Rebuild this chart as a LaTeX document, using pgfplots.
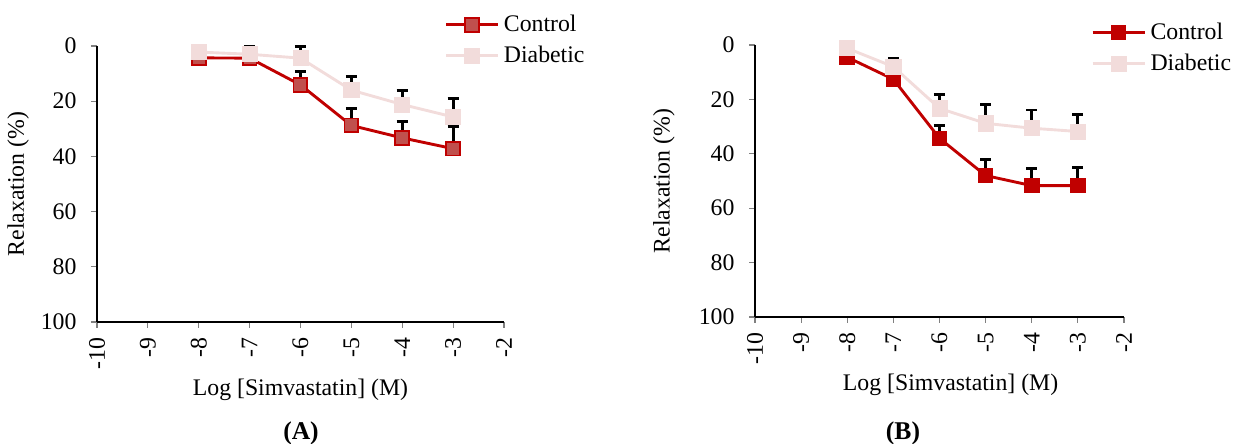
\documentclass[border=0pt]{standalone}
\usepackage{fontspec}
\setmainfont{Liberation Serif}
\usepackage{pgfplots}
\usepackage{pgfplotstable}
\pgfplotsset{compat=1.18}

\definecolor{ctrlred}{RGB}{192,0,0}
\definecolor{ctrlfill}{RGB}{192,80,77}
\definecolor{diab}{RGB}{242,220,219}

% panel A
\pgfplotstableread{
x  y    e
-8 4.3  0
-7 4.4  0
-6 14.1 4.9
-5 28.8 6.0
-4 33.3 6.0
-3 37.2 8.0
}\ctrlA
\pgfplotstableread{
x  y    e
-8 2.2  0
-7 3.0  2.8
-6 4.4  4.2
-5 16.0 4.8
-4 21.2 5.1
-3 25.7 6.8
}\diabA
% panel B
\pgfplotstableread{
x  y    e
-8 4.5  0
-7 12.6 0
-6 34.3 4.6
-5 48.0 5.8
-4 51.7 6.4
-3 51.7 6.8
}\ctrlB
\pgfplotstableread{
x  y    e
-8 1.2  0
-7 8.0  3.1
-6 23.3 5.2
-5 28.8 6.8
-4 30.6 6.7
-3 31.8 6.1
}\diabB

\newcommand{\lbl}{\fontsize{10.7}{12.8}\selectfont}

\pgfplotsset{
  panel/.style={
    scale only axis,
    xmin=-10, xmax=-2, ymin=0, ymax=100,
    y dir=reverse,
    axis x line*=bottom, axis y line*=left,
    axis line style={black, line width=0.6pt, -},
    xtick={-10,...,-2},
    xticklabels={-10,-9,-8,-7,-6,-5,-4,-3,-2},
    ytick={0,20,...,100},
    tick align=outside,
    major tick length=2.7pt,
    tick style={gray, line width=0.5pt},
    /pgf/number format/assume math mode=true,
    ticklabel style={font=\lbl},
    xticklabel style={rotate=90, anchor=east, xshift=-1pt},
    yticklabel style={anchor=east, xshift=-3pt},
    label style={font=\lbl},
    xlabel={Log [Simvastatin] (M)},
    ylabel={Relaxation (\%)},
    xlabel style={at={(axis description cs:0.5,0)}, anchor=center, yshift=-30.5pt},
    clip=false,
    legend cell align=left,
    legend style={draw=none, fill=none, font=\lbl, anchor=north west,
      inner sep=0pt, row sep=1pt},
    legend image code/.code={
      \draw[mark repeat=2, mark phase=2] plot coordinates {(0pt,0pt) (11.7pt,0pt) (23.4pt,0pt)};
    },
    error bars/y dir=minus, error bars/y explicit,
    error bars/error bar style={black, line width=1.3pt},
    error bars/error mark options={rotate=90, black, line width=1.3pt, mark size=2.5pt},
  },
  ctrl/.style={ctrlred, line width=1.3pt, mark=square*, mark size=3.1pt,
    mark options={line width=0.8pt, draw=ctrlred, fill=#1}},
  diabetic/.style={diab, line width=1.3pt, mark=square*, mark size=3.4pt,
    mark options={draw=diab, fill=diab, line width=0.3pt}},
}

\begin{document}
\begin{tikzpicture}
\useasboundingbox (0,0) rectangle (555.3pt,199.8pt);

\begin{axis}[panel, at={(43.65pt,54.9pt)}, anchor=south west,
  width=183.15pt, height=124.2pt,
  ylabel style={at={(axis description cs:-0.194,0.5)}, anchor=center},
  legend style={at={(0.853,1.13)}}]
\addplot[ctrl=ctrlfill] table[x=x, y=y, y error=e] {\ctrlA};
\addplot[diabetic] table[x=x, y=y, y error=e] {\diabA};
\legend{Control, Diabetic}
\end{axis}

\begin{axis}[panel, at={(339.75pt,57.15pt)}, anchor=south west,
  width=166.05pt, height=122.4pt,
  ylabel style={at={(axis description cs:-0.247,0.5)}, anchor=center},
  xlabel style={xshift=5pt},
  legend style={at={(0.91,1.1)}}]
\addplot[ctrl=ctrlred] table[x=x, y=y, y error=e] {\ctrlB};
\addplot[diabetic] table[x=x, y=y, y error=e] {\diabB};
\legend{Control, Diabetic}
\end{axis}

\node[font=\bfseries\fontsize{11.5}{13.8}\selectfont] at (135.45pt,4.95pt) {(A)};
\node[font=\bfseries\fontsize{11.5}{13.8}\selectfont] at (406.35pt,4.95pt) {(B)};
\end{tikzpicture}
\end{document}
